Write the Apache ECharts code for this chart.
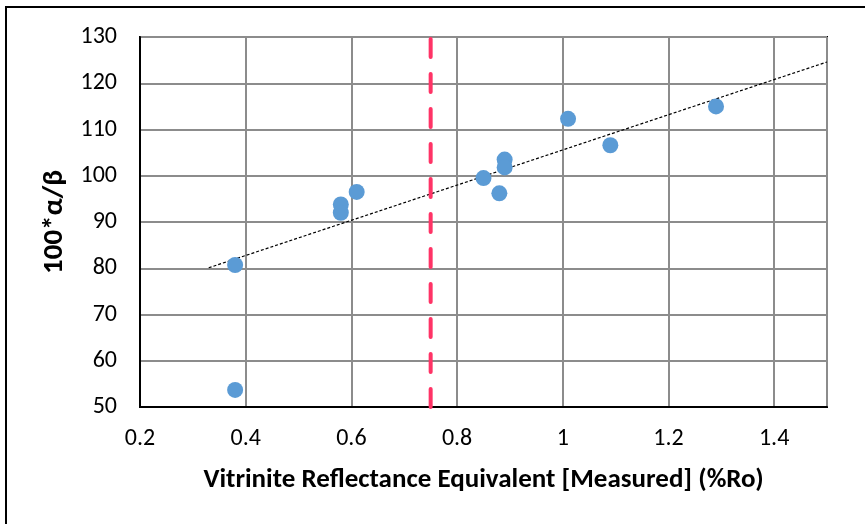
<!DOCTYPE html>
<html>
<head>
<meta charset="utf-8">
<script src="https://cdn.jsdelivr.net/npm/echarts@6/dist/echarts.min.js"></script>
<style>
  html, body { margin: 0; padding: 0; background: #fff; }
  #chart { width: 865px; height: 524px; }
</style>
</head>
<body>
<div id="chart"></div>
<script>
// Measured vitrinite reflectance (%Ro) and 100*alpha/beta ratio
const ro = [0.38, 0.38, 0.58, 0.58, 0.61, 0.85, 0.88, 0.89, 0.89, 1.01, 1.09, 1.29];
const ratio = [80.7, 53.7, 93.8, 92.0, 96.5, 99.5, 96.2, 103.5, 101.8, 112.3, 106.6, 115.0];

// Linear trend line end points
const trendX = [0.33, 1.5];
const trendY = [80.1, 124.6];

// Vertical cutoff at Ro = 0.75
const cutoffX = 0.75;

const xTicks = [0.2, 0.4, 0.6, 0.8, 1, 1.2, 1.4];
const yRange = [50, 130];

const font = "Carlito, 'Liberation Sans', sans-serif";

const points = ro.map((x, i) => [x, ratio[i]]);
const trend = trendX.map((x, i) => [x, trendY[i]]);
const cutoff = [[cutoffX, yRange[0]], [cutoffX, yRange[1]]];

const chart = echarts.init(document.getElementById('chart'), null, { renderer: 'canvas' });
chart.setOption({
  animation: false,
  backgroundColor: '#fff',
  graphic: [{
    type: 'rect',
    shape: { x: 6, y: 7, width: 880, height: 540 },
    style: { fill: 'none', stroke: '#000', lineWidth: 2 },
    silent: true
  }],
  grid: { left: 140, right: 38, top: 37, bottom: 117, show: true, borderColor: '#000', borderWidth: 2 },
  xAxis: {
    type: 'value', min: 0.2, max: 1.5, interval: 0.2,
    name: 'Vitrinite Reflectance Equivalent [Measured] (%Ro)',
    nameLocation: 'middle', nameGap: 60,
    nameTextStyle: { fontFamily: font, fontWeight: 'bold', fontSize: 27, color: '#000' },
    axisLine: { show: true, lineStyle: { color: '#000', width: 2 } },
    axisTick: { show: false },
    axisLabel: {
      fontFamily: font, fontSize: 24, color: '#000', margin: 20,
      formatter: v => xTicks.some(t => Math.abs(t - v) < 1e-9) ? String(+v.toFixed(1)) : ''
    },
    splitLine: { show: true, lineStyle: { color: '#8c8c8c', width: 2 } }
  },
  yAxis: {
    type: 'value', min: yRange[0], max: yRange[1], interval: 10,
    name: '100*α/β',
    nameLocation: 'middle', nameGap: 71, nameRotate: 90,
    nameTextStyle: { fontFamily: font, fontWeight: 'bold', fontSize: 29, color: '#000' },
    axisLine: { show: true, lineStyle: { color: '#000', width: 2 } },
    axisTick: { show: false },
    axisLabel: { fontFamily: font, fontSize: 24, color: '#000', margin: 23 },
    splitLine: { show: true, lineStyle: { color: '#8c8c8c', width: 2 } }
  },
  series: [
    {
      type: 'line', data: trend, symbol: 'none', silent: true, z: 3,
      lineStyle: { color: '#000', width: 1.2, type: [3, 2] }
    },
    {
      type: 'line', data: cutoff, symbol: 'none', silent: true, z: 4,
      lineStyle: { color: '#FF3366', width: 4, type: [18, 17], cap: 'round' }
    },
    {
      type: 'scatter', data: points, symbol: 'circle', symbolSize: 16, z: 5,
      itemStyle: { color: '#5B9BD5', opacity: 1 }
    }
  ]
});
</script>
</body>
</html>
